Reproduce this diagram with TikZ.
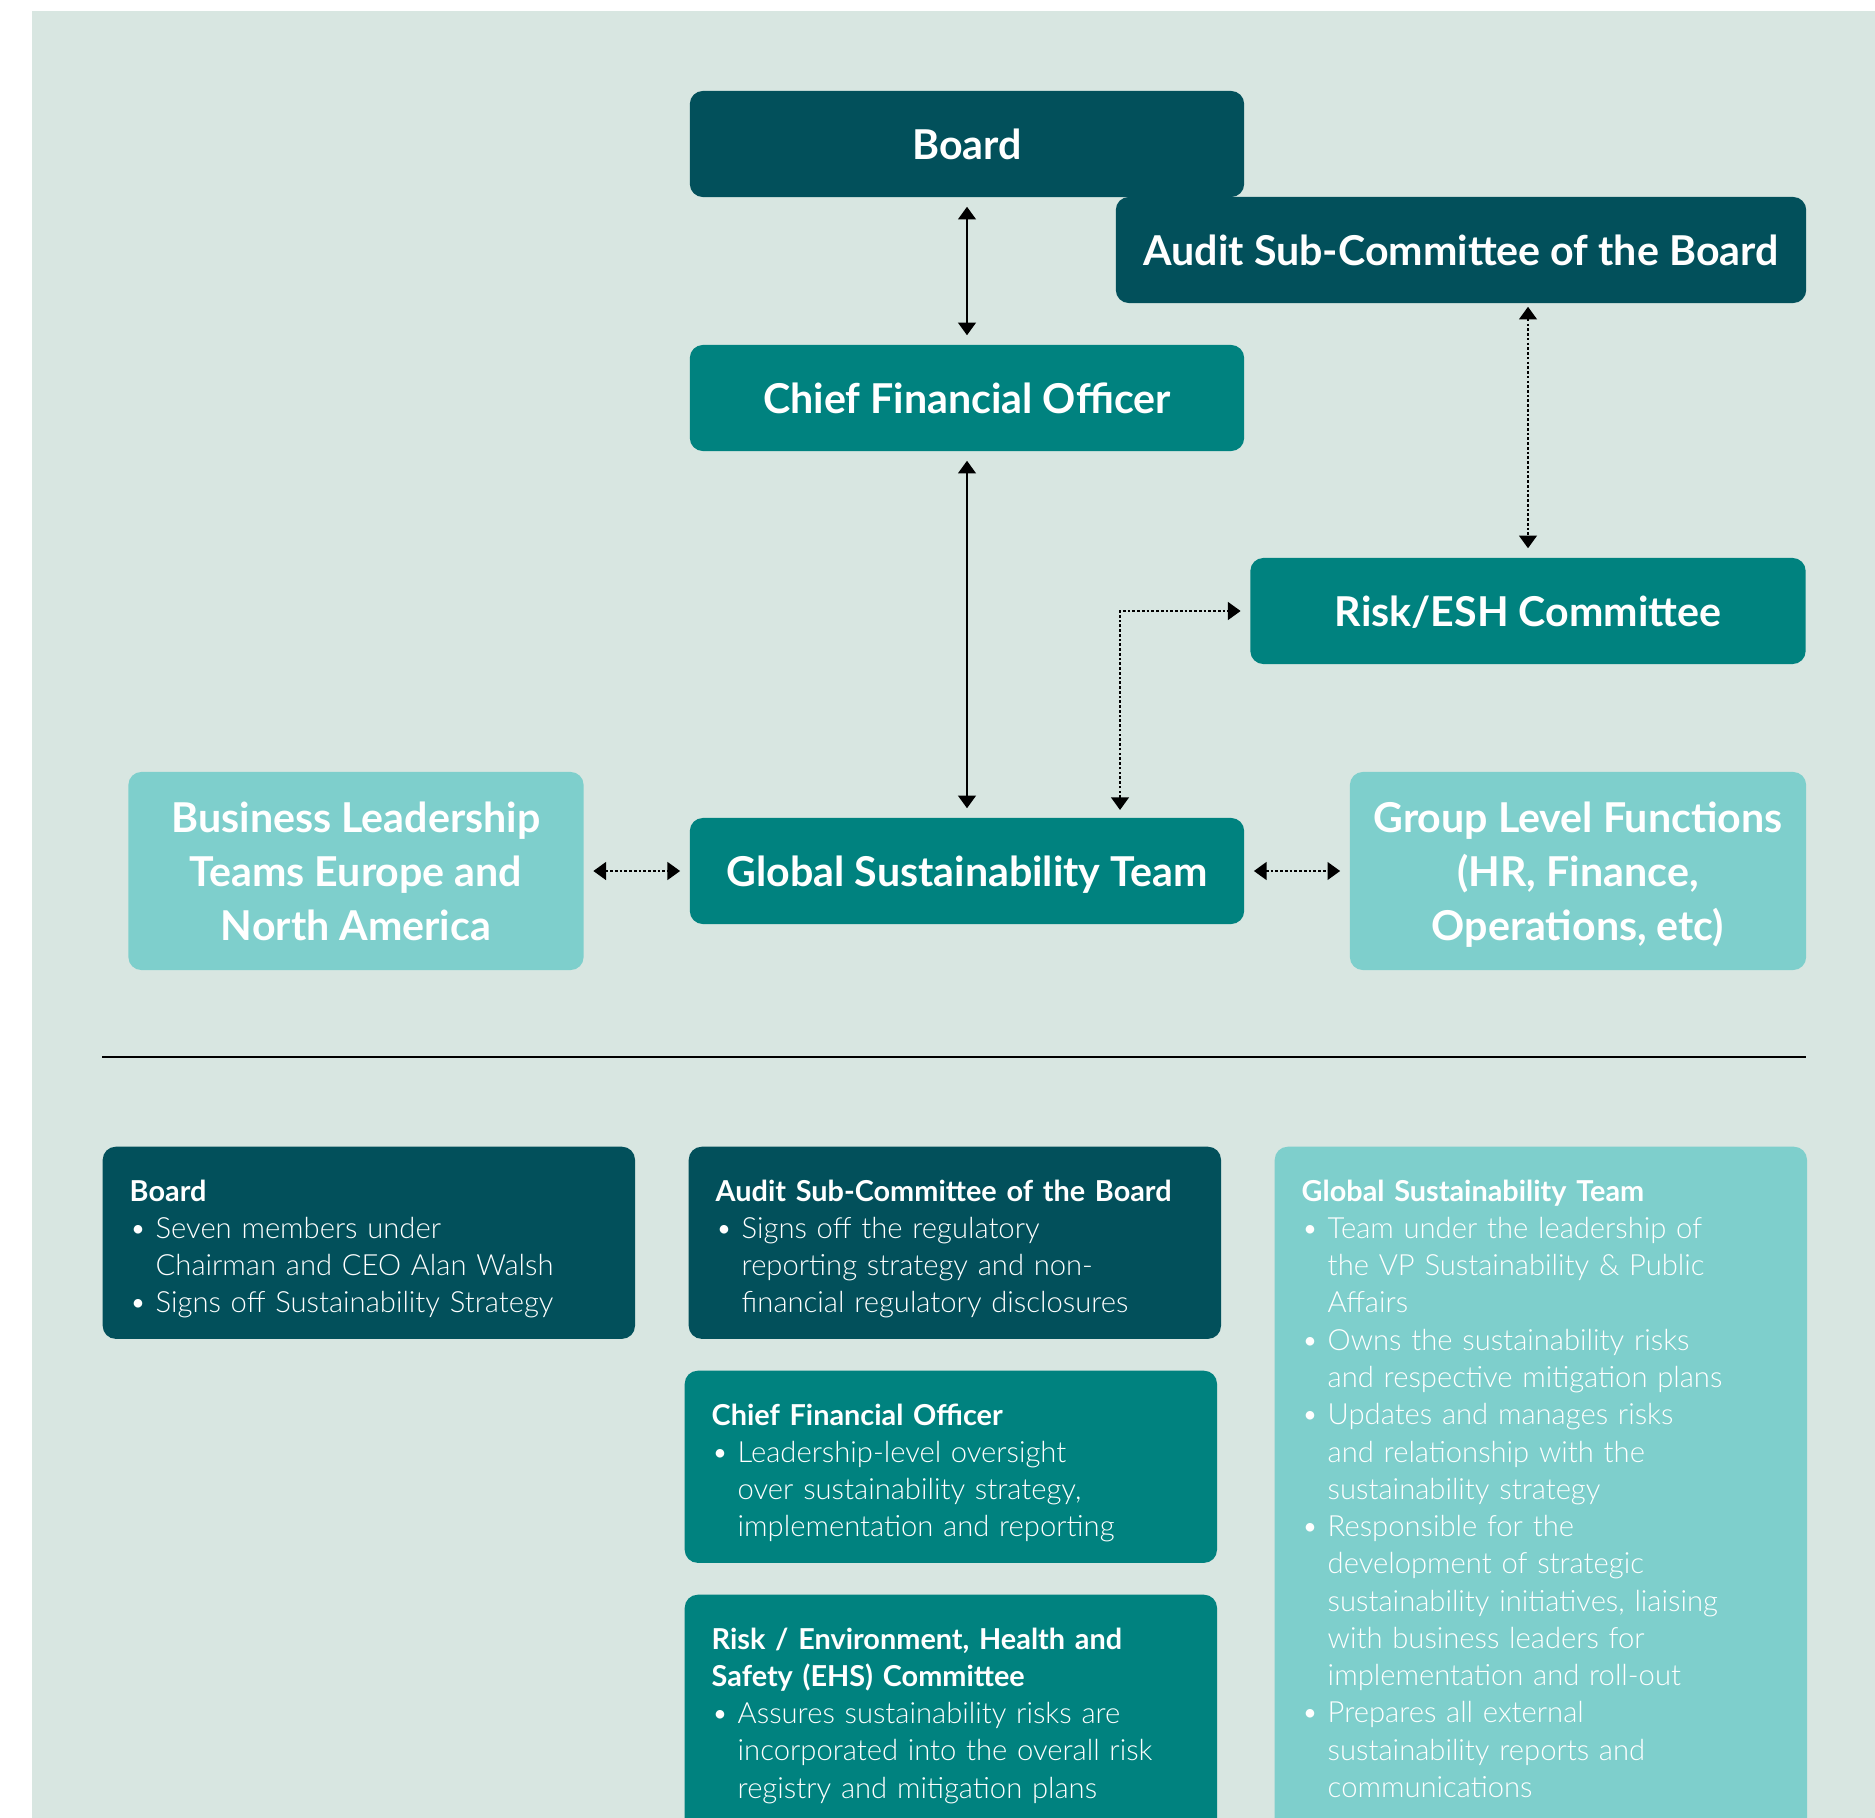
\documentclass[tikz,border=0pt]{standalone}
\usepackage{fontspec}
\setmainfont{Lato}
\IfFontExistsTF{Lato Light}{\newfontfamily\lightfont{Lato Light}}{\newfontfamily\lightfont{Lato}}
\usepackage{xcolor}
\usetikzlibrary{arrows.meta}

\definecolor{bgcol}{HTML}{D8E6E1}
\definecolor{deepteal}{HTML}{02505B}
\definecolor{midteal}{HTML}{00827F}
\definecolor{paleteal}{HTML}{7ECFCC}

% title and bullet lines of the description boxes
\newcommand{\desctitle}[1]{{\rmfamily\bfseries\fontsize{8.2}{10.6}\selectfont\rule{0pt}{8.5pt}#1}}
\newcommand{\bul}[1]{\par\hangindent=0.26cm\hangafter=1\noindent\makebox[0.26cm][l]{•}#1}

\begin{document}
\begin{tikzpicture}[x=0.01cm, y=-0.01cm,
    orgbox/.style={rounded corners=0.13cm, text=white, align=center,
        font=\bfseries\fontsize{11.7}{15.4}\selectfont, minimum height=1.06cm},
    oneline/.style={text height=0.9em, text depth=0pt},
    descbox/.style={rounded corners=0.13cm, text=white, anchor=north west, align=left,
        text width=4.78cm, inner xsep=0.27cm, inner ysep=0.245cm,
        font=\lightfont\fontsize{8.3}{10.6}\selectfont},
    link/.style={{Triangle[width=5pt,length=3.6pt]}-{Triangle[width=5pt,length=3.6pt]},
        line width=0.7pt, shorten <=0.09cm, shorten >=0.09cm},
    dotlink/.style={link, dash pattern=on 0.75pt off 0.6pt}]

    \useasboundingbox (0,0) rectangle (1875,1818);
    \clip (0,0) rectangle (1875,1818);
    \fill[bgcol] (32,11) rectangle (1875,1818);

    % Org chart boxes
    \node[orgbox, oneline, fill=deepteal, minimum width=5.54cm] (board) at (967,144) {Board};
    \node[orgbox, oneline, fill=deepteal, minimum width=6.9cm] (audit) at (1461,250) {Audit Sub-Committee of the Board};
    \node[orgbox, oneline, fill=midteal, minimum width=5.54cm] (cfo) at (967,398) {Chief Financial Officer};
    \node[orgbox, oneline, fill=midteal, minimum width=5.55cm] (risk) at (1528,611) {Risk/ESH Committee};
    \node[orgbox, oneline, fill=midteal, minimum width=5.54cm] (gst) at (967,871) {Global Sustainability Team};
    \node[orgbox, fill=paleteal, minimum width=4.55cm, minimum height=1.98cm, text depth=0pt] (bizlead) at (356,871)
        {Business Leadership\\Teams Europe and\\North America};
    \node[orgbox, fill=paleteal, minimum width=4.56cm, minimum height=1.98cm, text depth=0pt] (group) at (1578,871)
        {Group Level Functions\\(HR, Finance,\\Operations, etc)};

    % Connectors
    \draw[link] (board) -- (cfo);
    \draw[link] (cfo) -- (gst);
    \draw[dotlink, shorten <=0.03cm] (risk.north |- audit.south) -- (risk.north);
    \coordinate (gsttap) at (1120,819);
    \draw[dotlink] (gsttap) |- (risk.west);
    \draw[dotlink] (bizlead) -- (gst);
    \draw[dotlink] (gst) -- (group);

    % Separator
    \draw[line width=0.6pt] (102,1057) -- (1806,1057);

    % Description boxes
    \node[descbox, fill=deepteal, minimum height=1.92cm] (boarddesc) at (102,1146) {%
        \desctitle{Board}
        \bul{Seven members under\newline Chairman and CEO Alan Walsh}
        \bul{Signs off Sustainability Strategy}\par\vspace{-0.04cm}};
    \node[descbox, fill=deepteal, minimum height=1.92cm] (auditdesc) at (688,1146) {%
        \desctitle{Audit Sub-Committee of the Board}
        \bul{Signs off the regulatory\newline reporting strategy and non-\newline financial regulatory disclosures}\par\vspace{-0.04cm}};
    \node[descbox, fill=midteal, minimum height=1.92cm] (cfodesc) at (684,1370) {%
        \desctitle{Chief Financial Officer}
        \bul{Leadership-level oversight\newline over sustainability strategy,\newline implementation and reporting}\par\vspace{-0.04cm}};
    \node[descbox, fill=midteal] (riskdesc) at (684,1594) {%
        \desctitle{Risk / Environment, Health and\newline Safety (EHS) Committee}
        \bul{Assures sustainability risks are\newline incorporated into the overall risk\newline registry and mitigation plans}
        \par\vspace{0.3cm}};
    \node[descbox, fill=paleteal] (gstdesc) at (1274,1146) {%
        \desctitle{Global Sustainability Team}
        \bul{Team under the leadership of\newline the VP Sustainability \& Public\newline Affairs}
        \bul{Owns the sustainability risks\newline and respective mitigation plans}
        \bul{Updates and manages risks\newline and relationship with the\newline sustainability strategy}
        \bul{Responsible for the\newline development of strategic\newline sustainability initiatives, liaising\newline with business leaders for\newline implementation and roll-out}
        \bul{Prepares all external\newline sustainability reports and\newline communications}
        \par\vspace{0.3cm}};
\end{tikzpicture}
\end{document}
